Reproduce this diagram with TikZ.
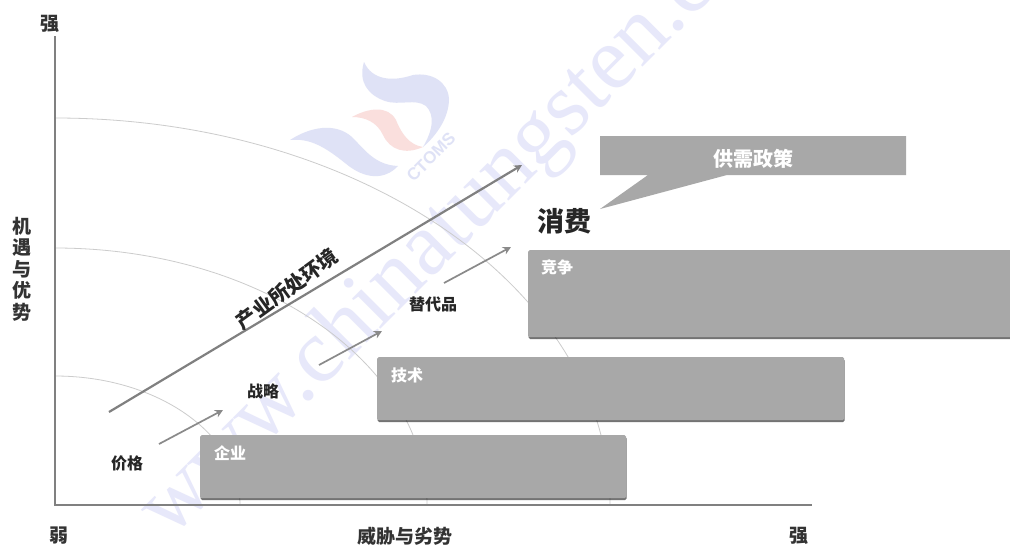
\documentclass[tikz,border=0pt]{standalone}
\usepackage{fontspec}
\setmainfont{Noto Sans CJK SC}
\newfontfamily\wmfont{Liberation Serif}
\newfontfamily\logofont{Liberation Sans}
\usetikzlibrary{arrows.meta,shadows,calc}
\definecolor{wmblue}{HTML}{E7E8FA}
\definecolor{logoblue}{HTML}{DFE2F6}
\definecolor{logopink}{HTML}{FADFDD}
\definecolor{bandgrey}{HTML}{A8A8A8}
\definecolor{arrowgrey}{HTML}{8A8A8A}
\tikzset{
 lab/.style={font=\bfseries\fontsize{16}{17}\selectfont,text=black!85,inner sep=0pt},
 axislab/.style={font=\bfseries\fontsize{19}{20}\selectfont,text=black!80,inner sep=0pt},
 band/.style={fill=bandgrey,rounded corners=1.5pt,minimum height=63pt,anchor=north west,inner sep=0pt,drop shadow={opacity=0.55,fill=black,shadow xshift=0.5pt,shadow yshift=-1.8pt}},
 arc/.style={draw=black!20,line width=0.8pt},
 arrowg/.style={draw=arrowgrey,line width=1.7pt,-{Stealth[length=8pt,width=8pt]}},
 wlab/.style={text=white,font=\bfseries\fontsize{16}{17}\selectfont,inner sep=0pt}
}
\begin{document}
\begin{tikzpicture}[x=1pt,y=-1pt]
\useasboundingbox (0,0) rectangle (1010,547);
\clip (0,0) rectangle (1010,547);
\fill[white] (0,0) rectangle (1010,547);
% watermark
\node[rotate=45,anchor=base west,text=wmblue,font=\wmfont\fontsize{90}{96}\selectfont,inner sep=0pt] (wm) at (170,540) {www.chinatungsten.com};
\fill[logoblue] (364,62) .. controls (372,80) and (392,82) .. (413,75) .. controls (432,72) and (448,82) .. (449,99) .. controls (449,118) and (436,136) .. (423,147) .. controls (433,130) and (435,115) .. (426,106) .. controls (415,98) and (400,106) .. (385,101) .. controls (368,95) and (358,82) .. (364,62) -- cycle;
\fill[logoblue] (290,140) .. controls (310,127) and (335,122) .. (352,137) .. controls (365,150) and (375,165) .. (398,166) .. controls (385,180) and (365,180) .. (345,163) .. controls (325,147) and (310,138) .. (290,140) -- cycle;
\fill[logopink] (352,117) .. controls (368,108) and (388,105) .. (396,120) .. controls (402,135) and (410,145) .. (423,147) .. controls (405,155) and (390,150) .. (383,135) .. controls (377,122) and (365,117) .. (352,117) -- cycle;
\node[rotate=45,text=logoblue,font=\logofont\bfseries\fontsize{17}{18}\selectfont,inner sep=0pt] (cto) at (431,157) {CTOMS};
% arcs
\coordinate (o) at (55,505);
\coordinate (a1s) at (55,376); \coordinate (a1e) at (240,505);
\coordinate (a2s) at (55,248); \coordinate (a2e) at (427,505);
\coordinate (a3s) at (55,118); \coordinate (a3e) at (610,505);
\draw[arc] (a1s) .. controls (157,376) and (240,434) .. (a1e);
\draw[arc] (a2s) .. controls (260,248) and (427,363) .. (a2e);
\draw[arc] (a3s) .. controls (362,118) and (610,291) .. (a3e);
% axes
\coordinate (yt) at (55,36); \coordinate (xe) at (812,505);
\draw[black!50,line width=2pt] (yt) -- (o) -- (xe);
% bands
\node[band,minimum width=426pt] (b1) at (200,435) {};
\node[band,minimum width=467pt] (b2) at (377,357) {};
\node[band,minimum width=490pt,minimum height=87pt] (b3) at (528,250) {};
\node[wlab] (t1) at (230,453) {企业};
\node[wlab] (t2) at (407,375) {技术};
\node[wlab] (t3) at (557,267) {竞争};
% callout
\fill[bandgrey] (600,136) -- (906,136) -- (906,175) -- (727,175) -- (600,209) -- (648,175) -- (600,175) -- cycle;
\node[text=white,font=\bfseries\fontsize{20}{21}\selectfont,inner sep=0pt] (sd) at (753,159) {供需政策};
\node[font=\bfseries\fontsize{27}{28}\selectfont,inner sep=0pt,text=black!85] (xf) at (564,221) {消费};
% labels
\node[lab] (q) at (127,463) {价格};
\node[lab] (z) at (263,391) {战略};
\node[lab] (td) at (433,304) {替代品};
\coordinate (a1a) at (159,444); \coordinate (a1b) at (223,410);
\coordinate (a2a) at (319,365); \coordinate (a2b) at (382,331);
\coordinate (a3a) at (444,283); \coordinate (a3b) at (511,247);
\coordinate (a4a) at (109,412); \coordinate (a4b) at (522,165);
\draw[arrowg] (a1a) -- (a1b);
\draw[arrowg] (a2a) -- (a2b);
\draw[arrowg] (a3a) -- (a3b);
\draw[arrowg,line width=2.2pt,draw=black!50] (a4a) -- (a4b);
\node[lab,rotate=36,font=\bfseries\fontsize{20}{21}\selectfont] (hy) at (287,289) {产业所处环境};
\node[axislab] (q1) at (50,24) {强};
\node[axislab] (r) at (59,536) {弱};
\node[axislab] (w) at (405,536) {威胁与劣势};
\node[axislab] (q2) at (799,536) {强};
\node[axislab,align=center,text width=20pt,font=\bfseries\fontsize{19}{21.5}\selectfont] (jy) at (22,269) {机\\遇\\与\\优\\势};
\end{tikzpicture}
\end{document}
